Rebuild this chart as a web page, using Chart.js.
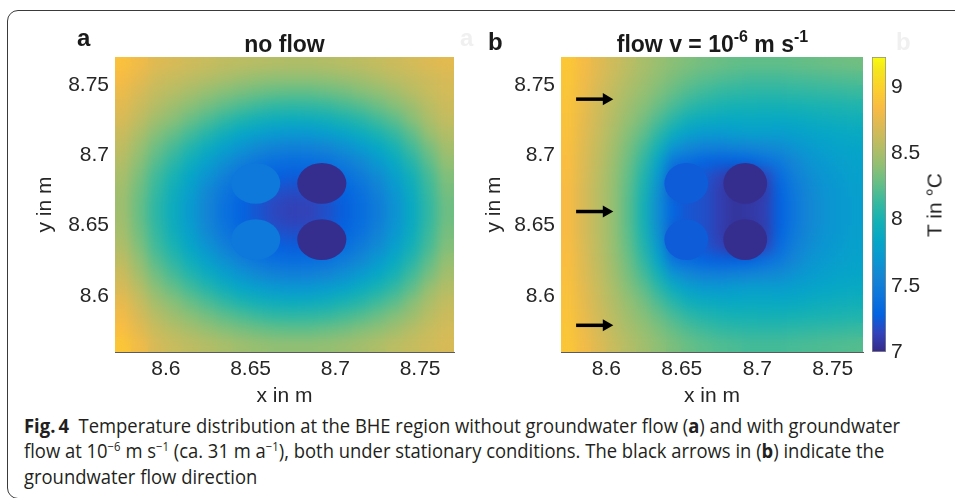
<!DOCTYPE html>
<html>
<head>
<meta charset="utf-8">
<title>Fig. 4</title>
<script src="https://cdn.jsdelivr.net/npm/chart.js@4.4.1/dist/chart.umd.min.js"></script>
<style>
  html, body { margin: 0; padding: 0; background: #fff; }
  #fig { position: relative; width: 955px; height: 498px; overflow: hidden; font-family: "Liberation Sans", Arial, sans-serif; color: #1a1a1a; }
  #frame { position: absolute; left: 7px; top: 10px; width: 990px; height: 489px; border: 1.5px solid #3a3a3a; border-radius: 11px; box-sizing: border-box; }
  canvas { position: absolute; top: 0; }
  .t { position: absolute; white-space: nowrap; line-height: 1; font-weight: bold; }
  .ghost { color: #f0f0f0; }
  .sup { font-size: 16px; line-height: 0; vertical-align: 10px; }
  #cbar-title { position: absolute; left: 934px; top: 205px; font-size: 21px; line-height: 1; white-space: nowrap; color: #262626; transform: translate(-50%, -50%) rotate(-90deg); }
  #caption { position: absolute; left: 24px; top: 412.7px; font-family: "Open Sans", sans-serif; font-size: 19.5px; line-height: 25.5px; color: #231f20; transform-origin: 0 0; }
  #caption div { white-space: nowrap; }
  #caption sup { font-size: 12px; line-height: 0; vertical-align: 7px; }
</style>
</head>
<body>
<div id="fig">
  <div id="frame"></div>
  <canvas id="pa" width="470" height="410" style="left:0"></canvas>
  <canvas id="pb" width="400" height="410" style="left:470px"></canvas>
  <canvas id="cb" width="95" height="410" style="left:860px"></canvas>

  <div class="t" style="left:77px;top:25.7px;font-size:24px">a</div>
  <div class="t ghost" style="left:460px;top:25.7px;font-size:24px">a</div>
  <div class="t" style="left:134.5px;width:300px;text-align:center;top:32.5px;font-size:23px">no flow</div>
  <div class="t" style="left:488px;top:29.7px;font-size:24px">b</div>
  <div class="t ghost" style="left:896px;top:29.7px;font-size:24px">b</div>
  <div class="t" style="left:562.5px;width:300px;text-align:center;top:32.5px;font-size:23px">flow v = 10<span class="sup">-6</span> m s<span class="sup">-1</span></div>
  <div id="cbar-title">T in °C</div>

  <div id="caption">
    <div><span id="line1"><b>Fig.&#8201;4</b>&nbsp;&nbsp;Temperature distribution at the BHE region without groundwater flow (<b>a</b>) and with groundwater</span></div>
    <div>flow at 10<sup>&minus;6</sup> m s<sup>&minus;1</sup> (ca. 31 m a<sup>&minus;1</sup>), both under stationary conditions. The black arrows in (<b>b</b>) indicate the</div>
    <div>groundwater flow direction</div>
  </div>
</div>

<script>
// grid cell centres (m), 0.01 m spacing, rows listed top (north) to bottom
const X_CELLS = [8.575, 8.585, 8.595, 8.605, 8.615, 8.625, 8.635, 8.645, 8.655, 8.665,
                 8.675, 8.685, 8.695, 8.705, 8.715, 8.725, 8.735, 8.745, 8.755, 8.765];
const Y_CELLS = [8.765, 8.755, 8.745, 8.735, 8.725, 8.715, 8.705, 8.695, 8.685, 8.675, 8.665,
                 8.655, 8.645, 8.635, 8.625, 8.615, 8.605, 8.595, 8.585, 8.575, 8.565];

// temperature in °C, panel a (no flow)
const T_NO_FLOW = [
  [8.88, 8.80, 8.72, 8.69, 8.65, 8.62, 8.59, 8.57, 8.55, 8.54, 8.53, 8.53, 8.54, 8.56, 8.58, 8.61, 8.64, 8.67, 8.71, 8.74],
  [8.83, 8.75, 8.66, 8.62, 8.58, 8.54, 8.50, 8.46, 8.43, 8.41, 8.41, 8.41, 8.42, 8.45, 8.48, 8.52, 8.57, 8.61, 8.65, 8.69],
  [8.78, 8.69, 8.60, 8.55, 8.49, 8.43, 8.38, 8.34, 8.30, 8.27, 8.26, 8.26, 8.29, 8.32, 8.37, 8.41, 8.47, 8.55, 8.62, 8.67],
  [8.73, 8.64, 8.54, 8.46, 8.39, 8.32, 8.25, 8.19, 8.14, 8.10, 8.09, 8.10, 8.12, 8.17, 8.22, 8.29, 8.37, 8.45, 8.56, 8.64],
  [8.69, 8.58, 8.46, 8.38, 8.28, 8.19, 8.10, 8.02, 7.96, 7.92, 7.90, 7.91, 7.94, 8.00, 8.06, 8.15, 8.24, 8.37, 8.50, 8.60],
  [8.63, 8.51, 8.37, 8.27, 8.16, 8.05, 7.94, 7.84, 7.77, 7.72, 7.70, 7.71, 7.75, 7.81, 7.90, 8.00, 8.11, 8.25, 8.42, 8.54],
  [8.59, 8.44, 8.29, 8.17, 8.04, 7.91, 7.78, 7.67, 7.59, 7.53, 7.51, 7.52, 7.56, 7.63, 7.73, 7.85, 7.99, 8.15, 8.32, 8.48],
  [8.54, 8.39, 8.22, 8.08, 7.93, 7.78, 7.64, 7.52, 7.43, 7.38, 7.36, 7.37, 7.40, 7.48, 7.58, 7.72, 7.87, 8.05, 8.24, 8.42],
  [8.50, 8.34, 8.15, 8.00, 7.83, 7.67, 7.52, 7.40, 7.32, 7.28, 7.26, 7.27, 7.30, 7.37, 7.47, 7.60, 7.77, 7.96, 8.17, 8.36],
  [8.47, 8.30, 8.11, 7.94, 7.77, 7.59, 7.44, 7.33, 7.26, 7.21, 7.19, 7.20, 7.24, 7.30, 7.39, 7.53, 7.70, 7.90, 8.13, 8.33],
  [8.46, 8.28, 8.08, 7.91, 7.73, 7.56, 7.40, 7.30, 7.22, 7.16, 7.13, 7.14, 7.20, 7.27, 7.36, 7.49, 7.66, 7.87, 8.10, 8.30],
  [8.47, 8.28, 8.08, 7.91, 7.73, 7.56, 7.40, 7.30, 7.22, 7.16, 7.13, 7.14, 7.20, 7.27, 7.36, 7.49, 7.66, 7.87, 8.10, 8.30],
  [8.49, 8.31, 8.11, 7.94, 7.77, 7.59, 7.44, 7.33, 7.26, 7.21, 7.19, 7.20, 7.24, 7.30, 7.39, 7.53, 7.70, 7.90, 8.13, 8.33],
  [8.53, 8.35, 8.15, 8.00, 7.83, 7.67, 7.52, 7.40, 7.32, 7.28, 7.26, 7.27, 7.30, 7.37, 7.47, 7.60, 7.77, 7.96, 8.17, 8.36],
  [8.58, 8.41, 8.22, 8.08, 7.93, 7.78, 7.64, 7.52, 7.43, 7.38, 7.36, 7.37, 7.40, 7.48, 7.58, 7.72, 7.87, 8.05, 8.24, 8.42],
  [8.64, 8.47, 8.30, 8.17, 8.04, 7.91, 7.78, 7.67, 7.59, 7.53, 7.51, 7.52, 7.56, 7.63, 7.73, 7.85, 7.99, 8.15, 8.32, 8.48],
  [8.69, 8.55, 8.38, 8.27, 8.16, 8.05, 7.94, 7.84, 7.77, 7.72, 7.70, 7.71, 7.75, 7.81, 7.90, 8.00, 8.11, 8.25, 8.42, 8.54],
  [8.76, 8.62, 8.47, 8.38, 8.28, 8.19, 8.10, 8.02, 7.96, 7.92, 7.90, 7.91, 7.94, 8.00, 8.06, 8.15, 8.24, 8.37, 8.50, 8.60],
  [8.81, 8.68, 8.55, 8.46, 8.39, 8.32, 8.25, 8.19, 8.14, 8.10, 8.09, 8.10, 8.12, 8.17, 8.22, 8.29, 8.37, 8.45, 8.56, 8.64],
  [8.86, 8.74, 8.62, 8.55, 8.49, 8.43, 8.38, 8.34, 8.30, 8.27, 8.26, 8.26, 8.29, 8.32, 8.37, 8.41, 8.47, 8.55, 8.62, 8.67],
  [8.92, 8.80, 8.68, 8.62, 8.58, 8.54, 8.50, 8.46, 8.43, 8.41, 8.41, 8.41, 8.42, 8.45, 8.48, 8.52, 8.57, 8.61, 8.65, 8.69]
];

// temperature in °C, panel b (flow from the left, 1e-6 m/s)
const T_FLOW = [
  [8.93, 8.83, 8.73, 8.65, 8.57, 8.50, 8.44, 8.39, 8.35, 8.32, 8.29, 8.27, 8.26, 8.26, 8.26, 8.27, 8.28, 8.29, 8.30, 8.31],
  [8.92, 8.81, 8.71, 8.62, 8.54, 8.47, 8.40, 8.34, 8.28, 8.24, 8.21, 8.19, 8.17, 8.17, 8.17, 8.18, 8.19, 8.20, 8.21, 8.22],
  [8.91, 8.79, 8.68, 8.59, 8.50, 8.43, 8.35, 8.27, 8.20, 8.15, 8.11, 8.09, 8.08, 8.08, 8.08, 8.09, 8.10, 8.11, 8.12, 8.13],
  [8.90, 8.77, 8.66, 8.56, 8.46, 8.38, 8.28, 8.18, 8.09, 8.04, 8.01, 7.99, 7.99, 7.98, 7.98, 7.99, 8.00, 8.01, 8.02, 8.03],
  [8.89, 8.75, 8.64, 8.53, 8.42, 8.32, 8.19, 8.06, 7.95, 7.90, 7.88, 7.87, 7.88, 7.88, 7.87, 7.88, 7.90, 7.92, 7.94, 7.95],
  [8.88, 8.74, 8.62, 8.50, 8.37, 8.25, 8.08, 7.90, 7.78, 7.73, 7.72, 7.74, 7.76, 7.76, 7.75, 7.78, 7.81, 7.84, 7.86, 7.88],
  [8.87, 8.72, 8.60, 8.47, 8.33, 8.17, 7.96, 7.68, 7.57, 7.52, 7.50, 7.53, 7.55, 7.58, 7.60, 7.67, 7.73, 7.78, 7.81, 7.83],
  [8.86, 8.71, 8.58, 8.45, 8.29, 8.10, 7.82, 7.42, 7.35, 7.30, 7.27, 7.28, 7.30, 7.38, 7.45, 7.57, 7.67, 7.73, 7.77, 7.80],
  [8.85, 8.70, 8.57, 8.43, 8.26, 8.04, 7.72, 7.25, 7.23, 7.22, 7.15, 7.06, 7.06, 7.15, 7.35, 7.50, 7.62, 7.69, 7.74, 7.78],
  [8.84, 8.69, 8.56, 8.42, 8.24, 8.00, 7.65, 7.23, 7.22, 7.20, 7.12, 7.04, 7.04, 7.10, 7.30, 7.46, 7.59, 7.67, 7.72, 7.77],
  [8.84, 8.69, 8.56, 8.42, 8.23, 7.98, 7.62, 7.30, 7.22, 7.20, 7.12, 7.06, 7.08, 7.12, 7.28, 7.44, 7.57, 7.66, 7.72, 7.76],
  [8.84, 8.69, 8.56, 8.42, 8.23, 7.98, 7.62, 7.30, 7.22, 7.20, 7.12, 7.06, 7.08, 7.12, 7.28, 7.44, 7.57, 7.66, 7.72, 7.76],
  [8.84, 8.69, 8.56, 8.42, 8.24, 8.00, 7.65, 7.23, 7.22, 7.20, 7.12, 7.04, 7.04, 7.10, 7.30, 7.46, 7.59, 7.67, 7.72, 7.77],
  [8.85, 8.70, 8.57, 8.43, 8.26, 8.04, 7.72, 7.25, 7.23, 7.22, 7.15, 7.06, 7.06, 7.15, 7.35, 7.50, 7.62, 7.69, 7.74, 7.78],
  [8.86, 8.71, 8.58, 8.45, 8.29, 8.10, 7.82, 7.42, 7.35, 7.30, 7.27, 7.28, 7.30, 7.38, 7.45, 7.57, 7.67, 7.73, 7.77, 7.80],
  [8.87, 8.72, 8.60, 8.47, 8.33, 8.17, 7.96, 7.68, 7.57, 7.52, 7.50, 7.53, 7.55, 7.58, 7.60, 7.67, 7.73, 7.78, 7.81, 7.83],
  [8.88, 8.74, 8.62, 8.50, 8.37, 8.25, 8.08, 7.90, 7.78, 7.73, 7.72, 7.74, 7.76, 7.76, 7.75, 7.78, 7.81, 7.84, 7.86, 7.88],
  [8.89, 8.75, 8.64, 8.53, 8.42, 8.32, 8.19, 8.06, 7.95, 7.90, 7.88, 7.87, 7.88, 7.88, 7.87, 7.88, 7.90, 7.92, 7.94, 7.95],
  [8.90, 8.77, 8.66, 8.56, 8.46, 8.38, 8.28, 8.18, 8.09, 8.04, 8.01, 7.99, 7.99, 7.98, 7.98, 7.99, 8.00, 8.01, 8.02, 8.03],
  [8.91, 8.79, 8.68, 8.59, 8.50, 8.43, 8.35, 8.27, 8.20, 8.15, 8.11, 8.09, 8.08, 8.08, 8.08, 8.09, 8.10, 8.11, 8.12, 8.13],
  [8.92, 8.81, 8.71, 8.62, 8.54, 8.47, 8.40, 8.34, 8.28, 8.24, 8.21, 8.19, 8.17, 8.17, 8.17, 8.18, 8.19, 8.20, 8.21, 8.22]
];

// borehole heat exchangers: centres (m) and temperature (°C)
const BHE_X = [8.653, 8.653, 8.692, 8.692];
const BHE_Y = [8.680, 8.640, 8.680, 8.640];
const BHE_T_NO_FLOW = [7.45, 7.45, 7.02, 7.02];
const BHE_T_FLOW = [7.25, 7.25, 7.02, 7.02];
const BHE_R = 0.0145;

// groundwater flow arrows in panel b
const ARROW_Y = [8.740, 8.660, 8.579];
const ARROW_X = [8.580, 8.600];

// axes
const X_RANGE = [8.57, 8.77];
const Y_RANGE = [8.56, 8.77];
const X_TICKS = [8.6, 8.65, 8.7, 8.75];
const X_TICK_LABELS = ['8.6', '8.65', '8.7', '8.75'];
const Y_TICKS = [8.6, 8.65, 8.7, 8.75];
const Y_TICK_LABELS = ['8.6', '8.65', '8.7', '8.75'];
const T_MIN = 7, T_MAX = 9.227;
const CB_TICKS = [7, 7.5, 8, 8.5, 9];
const CB_TICK_LABELS = ['7', '7.5', '8', '8.5', '9'];

// parula colormap (MATLAB), stop position and rgb
const PARULA = [
  [0, 53, 42, 135], [4, 50, 67, 186], [8, 3, 99, 225], [12, 13, 117, 220], [16, 20, 133, 212],
  [20, 9, 152, 209], [24, 6, 167, 198], [28, 21, 177, 180], [32, 56, 185, 158], [36, 101, 190, 134],
  [40, 146, 191, 115], [44, 183, 189, 100], [48, 217, 186, 86], [52, 248, 187, 68], [56, 252, 206, 46],
  [60, 245, 228, 29], [63, 249, 251, 14]
];

Chart.defaults.font.family = '"Liberation Sans", Arial, sans-serif';
Chart.defaults.color = '#262626';

function parula(v) {
  const t = Math.min(1, Math.max(0, (v - T_MIN) / (T_MAX - T_MIN))) * 63;
  let i = 0;
  while (i < PARULA.length - 2 && PARULA[i + 1][0] < t) i++;
  const a = PARULA[i], b = PARULA[i + 1];
  const f = (t - a[0]) / (b[0] - a[0]);
  const c = k => Math.round(a[k] + (b[k] - a[k]) * f);
  return `rgb(${c(1)},${c(2)},${c(3)})`;
}

const CELL = X_CELLS[1] - X_CELLS[0];

// paints the temperature cells and the BHE discs through the chart scales
const fieldPlugin = {
  id: 'field',
  beforeDatasetsDraw(chart) {
    const { ctx, chartArea: a, scales: { x: sx, y: sy } } = chart;
    const heat = chart.data.datasets.find(d => d.heat);
    const bhe = chart.data.datasets.find(d => d.bhe);
    const off = document.createElement('canvas');
    off.width = chart.width; off.height = chart.height;
    const o = off.getContext('2d');
    heat.data.forEach(p => {
      const x0 = Math.floor(sx.getPixelForValue(p.x - CELL / 2));
      const x1 = Math.ceil(sx.getPixelForValue(p.x + CELL / 2));
      const y0 = Math.floor(sy.getPixelForValue(p.y + CELL / 2));
      const y1 = Math.ceil(sy.getPixelForValue(p.y - CELL / 2));
      o.fillStyle = parula(p.v);
      o.fillRect(x0, y0, x1 - x0, y1 - y0);
    });
    ctx.save();
    ctx.beginPath(); ctx.rect(a.left, a.top, a.width, a.height); ctx.clip();
    ctx.drawImage(off, 0, 0);
    ctx.filter = 'blur(6px)';
    ctx.drawImage(off, 0, 0);
    ctx.filter = 'none';
    bhe.data.forEach(p => {
      const cx = sx.getPixelForValue(p.x), cy = sy.getPixelForValue(p.y);
      const rx = sx.getPixelForValue(p.x + BHE_R) - cx;
      const ry = cy - sy.getPixelForValue(p.y + BHE_R);
      ctx.fillStyle = parula(p.v);
      ctx.beginPath(); ctx.ellipse(cx, cy, rx, ry, 0, 0, Math.PI * 2); ctx.fill();
    });
    ctx.restore();
  }
};

function axis(range, ticks, labels, title, fit, pad, titlePad) {
  return {
    type: 'linear', min: range[0], max: range[1], z: 1,
    afterBuildTicks: s => { s.ticks = ticks.map(value => ({ value })); },
    afterFit: fit,
    ticks: { padding: pad, font: { size: 21 }, color: '#262626', callback: (v, i) => labels[i] },
    grid: { display: false, drawTicks: false },
    border: { display: true, color: '#5a5a5a', width: 1 },
    title: { display: true, text: title, font: { size: 21 }, color: '#262626', padding: titlePad }
  };
}

function panel(id, field, bheT, arrows, pad, yWidth) {
  const heat = [];
  Y_CELLS.forEach((y, i) => X_CELLS.forEach((x, j) => heat.push({ x, y, v: field[i][j] })));
  const datasets = [
    { data: heat, pointRadius: 0, heat: true },
    { data: BHE_X.map((x, i) => ({ x, y: BHE_Y[i], v: bheT[i] })), pointRadius: 0, bhe: true }
  ];
  if (arrows) ARROW_Y.forEach(y => datasets.push({
    data: ARROW_X.map(x => ({ x, y })),
    showLine: true, borderColor: '#000', borderWidth: 3.5, borderCapStyle: 'butt',
    pointRadius: [0, 7], pointStyle: 'triangle', pointRotation: 90,
    pointBackgroundColor: '#000', pointBorderWidth: 0
  }));
  return new Chart(document.getElementById(id), {
    type: 'scatter',
    data: { datasets },
    options: {
      responsive: false, animation: false, events: [],
      layout: { padding: pad },
      plugins: { legend: { display: false }, tooltip: { enabled: false } },
      scales: {
        x: axis(X_RANGE, X_TICKS, X_TICK_LABELS, 'x in m', s => { s.height = 58; }, 5, { top: 0, bottom: 1 }),
        y: axis(Y_RANGE, Y_TICKS, Y_TICK_LABELS, 'y in m', s => { s.width = yWidth; }, 6, { top: 6, bottom: 0 })
      }
    },
    plugins: [fieldPlugin]
  });
}

panel('pa', T_NO_FLOW, BHE_T_NO_FLOW, false, { left: 27, right: 16, top: 57, bottom: 0 }, 88);
panel('pb', T_FLOW, BHE_T_FLOW, true, { left: 6, right: 5, top: 57, bottom: 0 }, 85);

// colour bar
function cbGradient(c) {
  const chart = c.chart;
  if (!chart.chartArea) return 'transparent';
  const y = chart.scales.y;
  const g = chart.ctx.createLinearGradient(0, y.getPixelForValue(T_MIN), 0, y.getPixelForValue(T_MAX));
  PARULA.forEach(s => g.addColorStop(s[0] / 63, `rgb(${s[1]},${s[2]},${s[3]})`));
  return g;
}

new Chart(document.getElementById('cb'), {
  type: 'bar',
  data: {
    labels: [''],
    datasets: [{
      data: [[T_MIN, T_MAX]], backgroundColor: cbGradient,
      borderColor: '#8c8c8c', borderWidth: 1, borderSkipped: false,
      barPercentage: 1, categoryPercentage: 1
    }]
  },
  options: {
    responsive: false, animation: false, events: [],
    layout: { padding: { left: 12, right: 0, top: 57, bottom: 58 } },
    plugins: { legend: { display: false }, tooltip: { enabled: false } },
    scales: {
      x: { display: false },
      y: {
        position: 'right', min: T_MIN, max: T_MAX,
        afterBuildTicks: s => { s.ticks = CB_TICKS.map(value => ({ value })); },
        afterFit: s => { s.width = 69; },
        ticks: { padding: 5, font: { size: 21 }, color: '#262626', callback: (v, i) => CB_TICK_LABELS[i] },
        grid: { display: false, drawTicks: false },
        border: { display: false }
      }
    }
  }
});

// squeeze the caption to the width of the original typesetting
const cap = document.getElementById('caption');
const w = document.getElementById('line1').getBoundingClientRect().width;
cap.style.transform = `scaleX(${(876 / w).toFixed(4)})`;
</script>
</body>
</html>
